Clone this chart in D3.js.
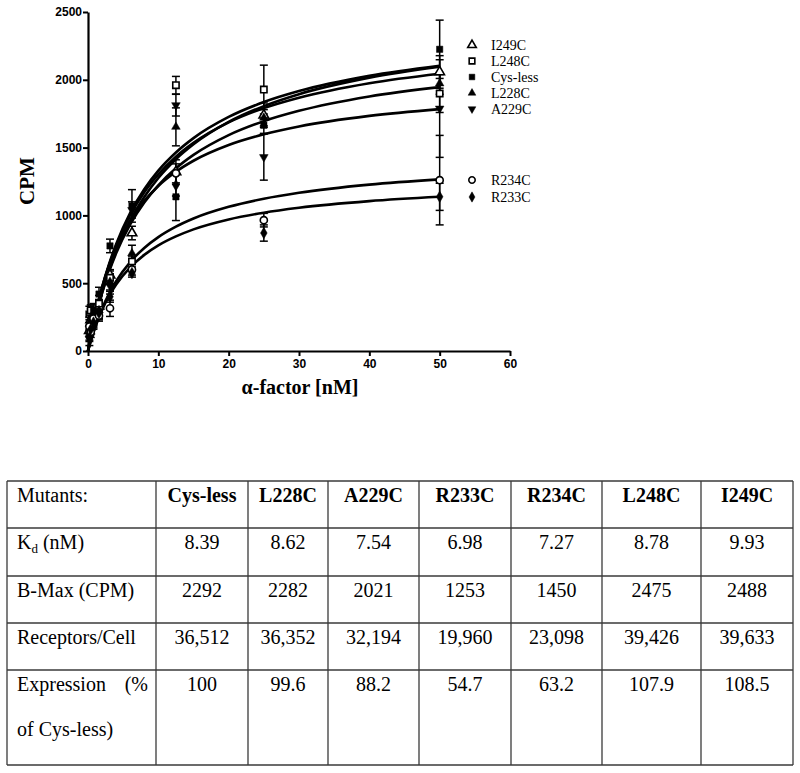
<!DOCTYPE html>
<html>
<head>
<meta charset="utf-8">
<script src="https://cdn.jsdelivr.net/npm/d3@7"></script>
<style>
  body { margin: 0; background: #fff; }
  svg { display: block; }
</style>
</head>
<body>
<svg id="chart"></svg>
<script>
const width = 800;
const height = 773;

// alpha-factor concentrations (nM)
const xConc = [0.195, 0.39, 0.78, 1.5625, 3.125, 6.25, 12.5, 25, 50];

const cpmI249C   = [150, 230, 260, 330, 560, 870, 1320, 1739, 2058];
const cpmL248C   = [270, 300, 230, 350, 540, 660, 1960, 1928, 1899];
const cpmCysless = [120, 210, 300, 420, 775, 1070, 1137, 1665, 2225];
const cpmL228C   = [200, 180, 280, 300, 510, 720, 1653, 1720, 1973];
const cpmA229C   = [90, 250, 200, 290, 480, 1040, 1813, 1430, 1788];
const cpmR234C   = [180, 140, 240, 260, 315, 600, 1310, 965, 1260];
const cpmR233C   = [100, 160, 210, 280, 400, 575, 1223, 870, 1137];

// error bars (+/-)
const errI249C   = [40, 50, 40, 50, 40, 50, 90, 90, 120];
const errL248C   = [60, 40, 50, 60, 50, 40, 65, 180, 140];
const errCysless = [40, 50, 50, 50, 50, 120, 175, 60, 215];
const errL228C   = [50, 40, 60, 60, 60, 60, 140, 60, 80];
const errA229C   = [50, 60, 40, 50, 60, 60, 80, 170, 360];
const errR234C   = [50, 40, 50, 40, 60, 40, 70, 50, 330];
const errR233C   = [30, 40, 40, 50, 40, 30, 80, 60, 100];

// fitted curves, sampled off the figure
const fitX       = [0, 0.5, 1, 2, 3, 4, 6, 8, 10, 12.5, 15, 20, 25, 30, 40, 50];
const fitI249C   = [0, 124, 236, 431, 595, 735, 962, 1136, 1276, 1414, 1524, 1689, 1806, 1894, 2016, 2097];
const fitL248C   = [0, 137, 259, 469, 642, 787, 1018, 1193, 1330, 1464, 1570, 1726, 1836, 1917, 2029, 2103];
const fitCysless = [0, 136, 256, 463, 633, 776, 1001, 1171, 1303, 1433, 1535, 1686, 1791, 1868, 1975, 2045];
const fitL228C   = [0, 124, 236, 427, 586, 720, 933, 1095, 1222, 1347, 1446, 1592, 1695, 1771, 1877, 1946];
const fitA229C   = [0, 142, 266, 470, 631, 762, 962, 1107, 1217, 1322, 1403, 1519, 1598, 1656, 1734, 1784];
const fitR234C   = [0, 93, 175, 313, 424, 515, 656, 760, 840, 917, 977, 1063, 1123, 1167, 1227, 1266];
const fitR233C   = [0, 92, 171, 302, 406, 490, 617, 709, 779, 845, 897, 970, 1020, 1056, 1105, 1137];

const seriesNames = ["I249C", "L248C", "Cys-less", "L228C", "A229C", "R234C", "R233C"];

const xTicks = [0, 10, 20, 30, 40, 50, 60];
const yTicks = [0, 500, 1000, 1500, 2000, 2500];

// table contents
const tableMutants   = ["Cys-less", "L228C", "A229C", "R233C", "R234C", "L248C", "I249C"];
const tableKd        = ["8.39", "8.62", "7.54", "6.98", "7.27", "8.78", "9.93"];
const tableBmax      = ["2292", "2282", "2021", "1253", "1450", "2475", "2488"];
const tableReceptors = ["36,512", "36,352", "32,194", "19,960", "23,098", "39,426", "39,633"];
const tableExpr      = ["100", "99.6", "88.2", "54.7", "63.2", "107.9", "108.5"];

const layout = {plot: {left: 88, right: 510, top: 12, bottom: 351},
    legend: {x: 472, textX: 491, rows: [45, 61, 77, 93, 109, 180, 197]},
    table: {cols: [7, 156, 248, 328, 419, 511, 602, 701, 793],
            rows: [481, 528, 576, 623, 670, 765]}};

const SANS = "'Liberation Sans', Arial, sans-serif";
const SERIF = "'Liberation Serif', 'Times New Roman', serif";

let svg;

function makeSeries()
{
    let cpm = [cpmI249C, cpmL248C, cpmCysless, cpmL228C, cpmA229C, cpmR234C, cpmR233C];
    let err = [errI249C, errL248C, errCysless, errL228C, errA229C, errR234C, errR233C];
    let fit = [fitI249C, fitL248C, fitCysless, fitL228C, fitA229C, fitR234C, fitR233C];
    // symbol, filled?, rotation
    let marks = [[d3.symbolTriangle, false, 0], [d3.symbolSquare, false, 0], [d3.symbolSquare, true, 0],
                 [d3.symbolTriangle, true, 0], [d3.symbolTriangle, true, 180], [d3.symbolCircle, false, 0],
                 [d3.symbolDiamond, true, 0]];
    return seriesNames.map((name, i) => ({
        name: name,
        points: xConc.map((x, j) => ({x: x, y: cpm[i][j], e: err[i][j]})),
        fit: fitX.map((x, j) => ({x: x, y: fit[i][j]})),
        symbol: marks[i][0], filled: marks[i][1], rotate: marks[i][2]
    }));
}

function drawMarker(g, s, x, y, k)
{
    let size = s.symbol === d3.symbolCircle ? 40 : (s.symbol === d3.symbolDiamond ? 38 : 40);
    if (s.symbol === d3.symbolTriangle && s.filled) size = 32;
    g.append("path")
        .attr("d", d3.symbol().type(s.symbol).size(size * (k || 1))())
        .attr("transform", `translate(${x},${y}) rotate(${s.rotate})`)
        .attr("fill", s.filled ? "#000" : "#fff")
        .attr("stroke", "#000")
        .attr("stroke-width", s.filled ? 0.5 : 1.6);
}

function makeChart()
{
    let p = layout.plot;
    let x = d3.scaleLinear().domain([0, 60]).range([p.left, p.right]);
    let y = d3.scaleLinear().domain([0, 2500]).range([p.bottom, p.top]);

    let series = makeSeries();

    // axes
    let xAxis = svg.append("g")
        .attr("transform", `translate(0,${p.bottom})`)
        .call(d3.axisBottom(x).tickValues(xTicks).tickFormat(d3.format("d"))
            .tickSize(5).tickPadding(3).tickSizeOuter(0));
    let yAxis = svg.append("g")
        .attr("transform", `translate(${p.left},0)`)
        .call(d3.axisLeft(y).tickValues(yTicks).tickFormat(d3.format("d"))
            .tickSize(5).tickPadding(1).tickSizeOuter(0));

    [xAxis, yAxis].forEach(a => {
        a.select(".domain").attr("stroke", "#000").attr("stroke-width", 2.2);
        a.selectAll(".tick line").attr("stroke", "#000").attr("stroke-width", 2);
        a.selectAll(".tick text")
            .attr("fill", "#000")
            .style("font-family", SANS)
            .style("font-weight", "bold")
            .style("font-size", "12px");
    });

    // axis titles
    svg.append("text")
        .attr("transform", "translate(34,181) rotate(-90)")
        .attr("text-anchor", "middle")
        .style("font-family", SERIF)
        .style("font-weight", "bold")
        .style("font-size", "21px")
        .text("CPM");

    svg.append("text")
        .attr("x", 300)
        .attr("y", 394)
        .attr("text-anchor", "middle")
        .style("font-family", SERIF)
        .style("font-weight", "bold")
        .style("font-size", "20px")
        .text("α-factor [nM]");

    // fitted curves
    let line = d3.line()
        .x(d => x(d.x))
        .y(d => y(d.y))
        .curve(d3.curveMonotoneX);

    svg.append("g").selectAll("path")
        .data(series)
        .join("path")
        .attr("d", s => line(s.fit))
        .attr("fill", "none")
        .attr("stroke", "#000")
        .attr("stroke-width", 2.6);

    // error bars
    let bars = svg.append("g").attr("stroke", "#000").attr("stroke-width", 1.5);
    series.forEach(s => {
        s.points.forEach(d => {
            let cx = x(d.x);
            bars.append("line").attr("x1", cx).attr("x2", cx)
                .attr("y1", y(d.y - d.e)).attr("y2", y(d.y + d.e));
            [d.y - d.e, d.y + d.e].forEach(v => {
                bars.append("line").attr("x1", cx - 4).attr("x2", cx + 4)
                    .attr("y1", y(v)).attr("y2", y(v));
            });
        });
    });

    // points
    let pts = svg.append("g");
    series.forEach(s => {
        s.points.forEach(d => drawMarker(pts, s, x(d.x), y(d.y)));
    });

    // legend
    let lg = svg.append("g");
    series.forEach((s, i) => {
        let ly = layout.legend.rows[i];
        drawMarker(lg, s, layout.legend.x, ly, 0.8);
        lg.append("text")
            .attr("x", layout.legend.textX)
            .attr("y", ly + 5)
            .style("font-family", SERIF)
            .style("font-size", "14px")
            .text(s.name);
    });
}

function makeTable()
{
    let t = layout.table;
    let g = svg.append("g");

    // grid
    let grid = g.append("g").attr("stroke", "#3a3a3a").attr("stroke-width", 1.3);
    t.cols.forEach(cx => {
        grid.append("line").attr("x1", cx).attr("x2", cx)
            .attr("y1", t.rows[0]).attr("y2", t.rows[t.rows.length - 1]);
    });
    t.rows.forEach(ry => {
        grid.append("line").attr("x1", t.cols[0]).attr("x2", t.cols[t.cols.length - 1])
            .attr("y1", ry).attr("y2", ry);
    });

    let cellText = (txt, col, row, bold) => {
        g.append("text")
            .attr("x", (t.cols[col] + t.cols[col + 1]) / 2)
            .attr("y", t.rows[row] + 21)
            .attr("text-anchor", "middle")
            .style("font-family", SERIF)
            .style("font-size", "20px")
            .style("font-weight", bold ? "bold" : "normal")
            .text(txt);
    };

    let leftText = (row, dy) => g.append("text")
        .attr("x", t.cols[0] + 10)
        .attr("y", t.rows[row] + dy)
        .style("font-family", SERIF)
        .style("font-size", "20px");

    // row labels
    leftText(0, 21).text("Mutants:");
    let kd = leftText(1, 21);
    kd.append("tspan").text("K");
    kd.append("tspan").attr("dy", 4).style("font-size", "13px").text("d");
    kd.append("tspan").attr("dy", -4).text(" (nM)");
    leftText(2, 21).text("B-Max (CPM)");
    leftText(3, 21).text("Receptors/Cell");
    leftText(4, 21).text("Expression");
    g.append("text")
        .attr("x", t.cols[1] - 8)
        .attr("y", t.rows[4] + 21)
        .attr("text-anchor", "end")
        .style("font-family", SERIF)
        .style("font-size", "20px")
        .text("(%");
    leftText(4, 66).text("of Cys-less)");

    // values
    tableMutants.forEach((m, i) => {
        cellText(m, i + 1, 0, true);
        cellText(tableKd[i], i + 1, 1, false);
        cellText(tableBmax[i], i + 1, 2, false);
        cellText(tableReceptors[i], i + 1, 3, false);
        cellText(tableExpr[i], i + 1, 4, false);
    });
}

svg = d3.select("#chart")
    .attr("width", width)
    .attr("height", height);

makeChart();
makeTable();
</script>
</body>
</html>
